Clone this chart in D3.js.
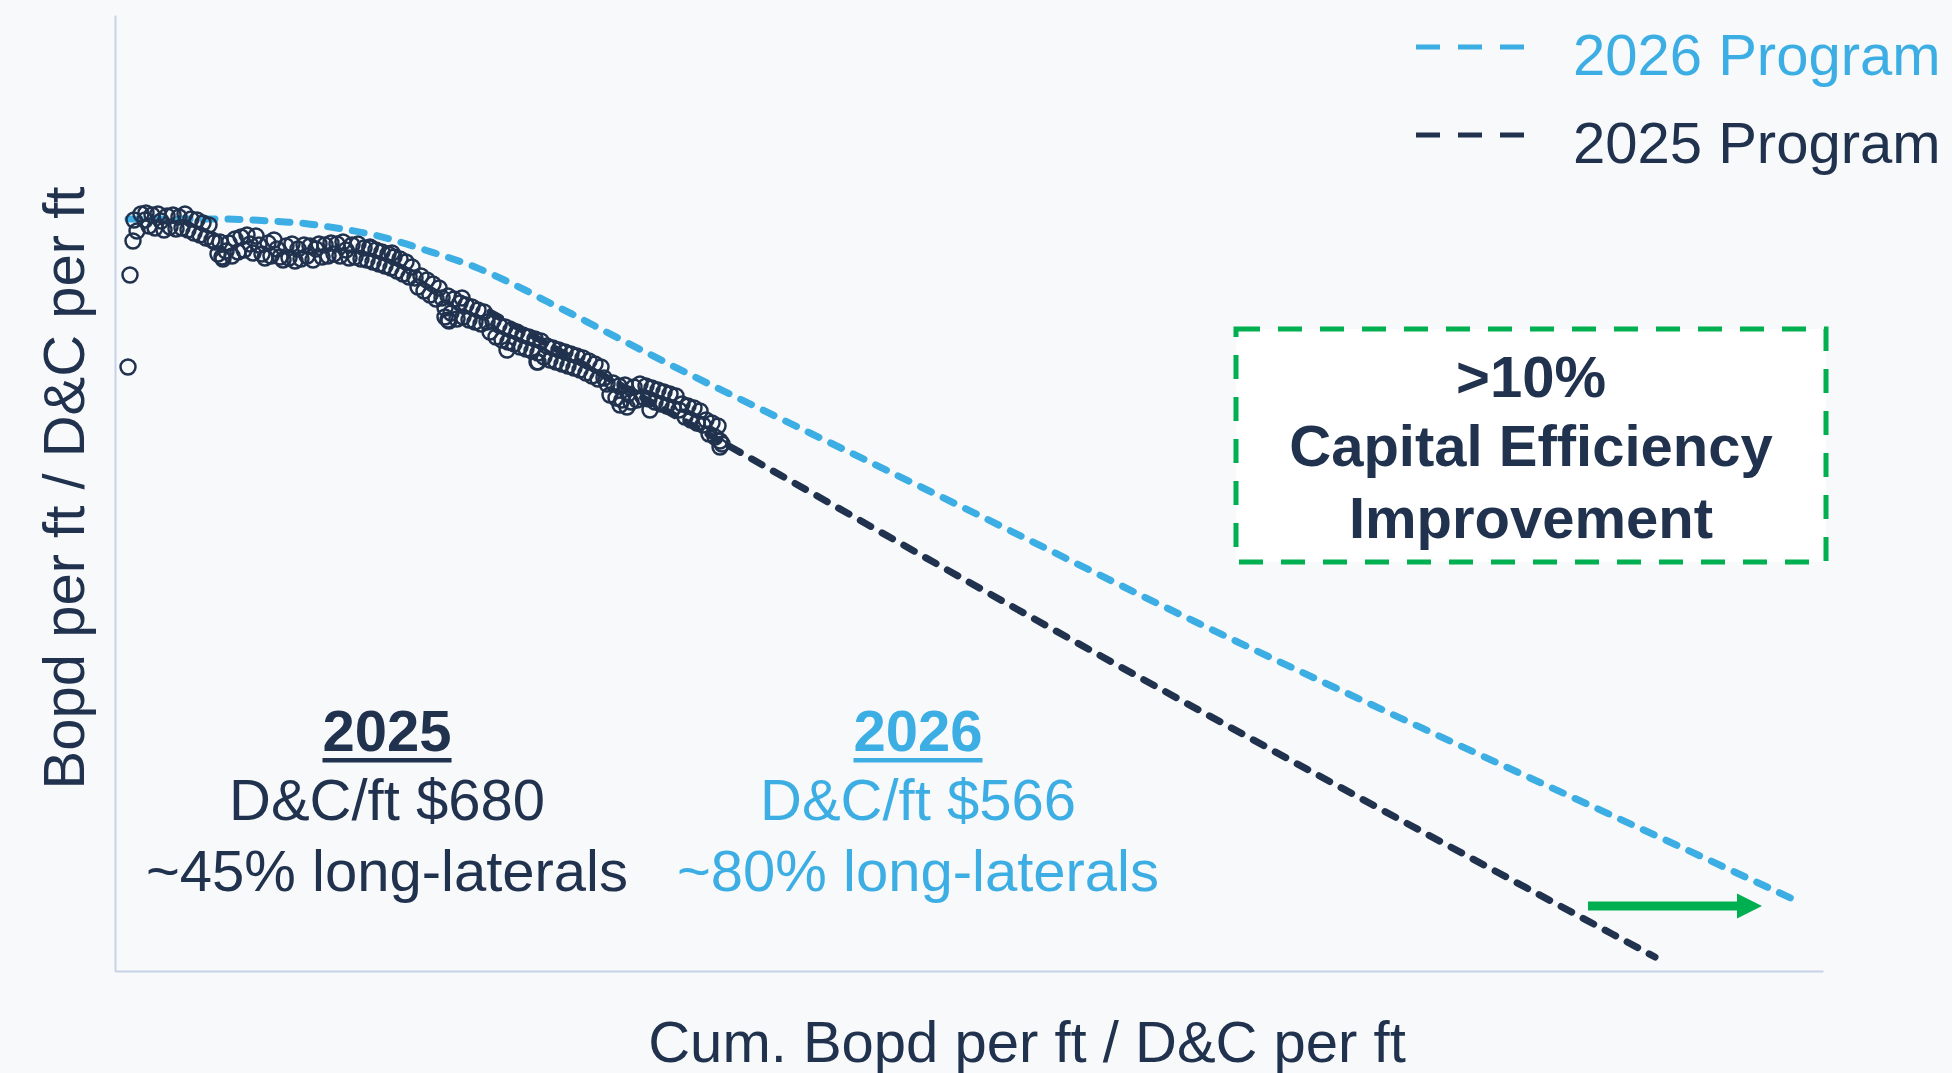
<!DOCTYPE html>
<html>
<head>
<meta charset="utf-8">
<script src="https://cdn.jsdelivr.net/npm/d3@7"></script>
<style>
  body { margin: 0; background: #f8f9fb; }
  text { font-family: "Liberation Sans", Arial, sans-serif; }
</style>
</head>
<body>
<div id="chartCont"></div>
<script>
// type curves, in the same (unlabelled) units as the scatter
let program2026 = [
  [1.3, 75.2], [6.0, 75.2], [10.5, 75.2], [15.5, 75.0], [18.5, 74.8], [20.8, 74.5],
  [22.8, 74.2], [25.9, 73.6], [28.5, 72.9], [31.0, 72.1], [33.5, 71.3], [36.0, 70.4],
  [38.5, 69.3], [41.0, 68.1], [43.3, 66.9], [45.7, 65.7], [48.0, 64.5], [59.0, 58.9],
  [62.5, 57.2], [84.5, 46.5], [108.5, 34.7], [133.5, 23.0], [158.3, 11.6], [168.0, 7.1]
];

let program2025 = [
  [37.5, 65.9], [60.5, 53.0], [93.2, 34.5], [154.0, 1.4]
];

// actual wells: cum. bopd per ft / D&C per ft vs bopd per ft / D&C per ft
let wells = [
  [1.3, 60.4], [1.5, 69.6], [1.8, 73.0], [2.2, 74.0], [2.6, 75.7], [1.9, 75.1], [3.0, 75.1],
  [3.1, 75.8], [3.4, 74.5], [3.7, 75.6], [4.0, 74.3], [4.3, 75.7], [4.6, 75.0], [4.9, 74.1],
  [5.2, 75.5], [5.5, 74.4], [5.8, 75.6], [6.1, 74.2], [6.4, 75.4], [6.7, 74.3], [7.0, 75.7],
  [7.3, 74.1], [7.6, 75.2], [7.9, 73.8], [8.2, 75.1], [8.5, 73.6], [8.8, 74.8], [9.1, 73.3],
  [9.4, 74.6], [9.7, 73.1], [10.0, 72.9], [10.3, 71.7], [10.5, 72.9], [10.8, 71.2], [11.1, 72.0],
  [11.4, 72.8], [11.7, 71.5], [12.0, 73.2], [12.3, 71.9], [12.6, 73.4], [12.9, 72.1], [13.2, 73.6],
  [13.5, 72.7], [13.8, 71.8], [14.1, 73.5], [14.4, 72.6], [14.7, 71.7], [15.0, 71.3], [15.3, 72.8],
  [15.6, 71.5], [15.9, 73.1], [16.2, 72.2], [16.5, 71.4], [16.8, 71.1], [17.1, 72.5], [17.4, 71.3],
  [17.7, 72.7], [18.0, 71.0], [18.3, 72.2], [18.6, 71.2], [18.9, 72.6], [19.2, 71.5], [19.5, 72.5],
  [19.8, 71.1], [20.1, 72.2], [20.4, 72.7], [20.7, 71.4], [21.0, 72.6], [21.3, 71.5], [21.6, 72.8],
  [21.9, 71.7], [22.2, 72.7], [22.5, 71.5], [22.8, 72.9], [23.1, 72.1], [23.4, 71.3], [23.7, 72.6],
  [24.0, 71.4], [24.3, 72.7], [24.6, 71.2], [24.9, 72.3], [25.2, 71.1], [25.5, 72.3], [25.8, 70.9],
  [26.1, 72.1], [26.4, 70.7], [26.7, 71.9], [27.0, 70.5], [27.3, 71.7], [27.6, 70.3], [27.9, 71.4],
  [28.2, 70.0], [28.5, 71.2], [28.8, 69.7], [29.1, 70.9], [29.4, 69.4], [29.7, 70.4], [30.0, 69.3],
  [30.3, 68.4], [30.6, 69.5], [30.9, 68.0], [31.2, 69.1], [31.5, 67.6], [31.8, 68.7], [32.1, 67.2],
  [32.4, 68.3], [32.7, 67.3], [33.0, 66.3], [33.3, 67.5], [33.6, 65.8], [33.9, 67.2], [34.2, 65.2],
  [34.5, 66.8], [34.8, 65.4], [35.1, 66.6], [35.4, 65.1], [35.7, 66.4], [36.0, 64.9], [36.3, 66.1],
  [36.6, 64.7], [36.9, 65.9], [37.2, 64.9], [37.5, 63.9], [37.8, 65.0], [38.1, 63.4], [38.4, 64.6],
  [38.7, 63.1], [39.0, 64.4], [39.3, 62.9], [39.6, 64.1], [39.9, 62.7], [40.2, 63.9], [40.5, 62.4],
  [40.8, 63.6], [41.1, 62.2], [41.4, 63.4], [41.7, 62.0], [42.0, 63.2], [42.3, 61.8], [42.6, 63.0],
  [42.9, 61.4], [43.2, 62.5], [43.5, 61.1], [43.8, 62.3], [44.1, 60.9], [44.4, 62.1], [44.7, 60.7],
  [45.0, 61.9], [45.3, 60.5], [45.6, 61.7], [45.9, 60.3], [46.2, 61.5], [46.5, 60.1], [46.8, 61.3],
  [47.1, 59.8], [47.4, 61.0], [47.7, 59.5], [48.0, 60.7], [48.3, 59.2], [48.6, 60.4], [48.9, 59.3],
  [49.2, 58.7], [49.5, 57.6], [49.8, 58.8], [50.1, 57.3], [50.4, 58.5], [50.7, 57.1], [51.0, 58.6],
  [51.3, 57.7], [51.6, 56.9], [51.9, 58.4], [52.2, 57.1], [52.5, 58.7], [52.8, 57.4], [53.1, 58.5],
  [53.4, 57.2], [53.7, 58.3], [54.0, 56.9], [54.3, 58.1], [54.6, 56.7], [54.9, 57.9], [55.2, 56.5],
  [55.5, 57.7], [55.8, 56.3], [56.1, 57.5], [56.4, 56.1], [56.7, 56.7], [57.0, 55.4], [57.3, 56.5],
  [57.6, 55.1], [57.9, 56.3], [58.2, 54.8], [58.5, 56.0], [58.8, 54.6], [59.1, 55.1], [59.4, 53.7],
  [59.7, 54.8], [60.0, 53.4], [60.3, 54.5], [60.5, 53.0], [60.7, 52.7],
  // loose wells off the main band
  [10.7, 71.4], [25.5, 72.4], [27.7, 71.8], [33.0, 65.4], [33.3, 65.1], [33.4, 65.0], [34.7, 67.3],
  [39.2, 62.1], [42.2, 60.9], [42.3, 60.9], [50.5, 56.6], [51.2, 56.4], [53.5, 56.1], [60.5, 52.4]
];

let legendLabels = ["2026 Program", "2025 Program"];
let boxLines = [">10%", "Capital Efficiency", "Improvement"];
let program2025Text = ["2025", "D&C/ft $680", "~45% long-laterals"];
let program2026Text = ["2026", "D&C/ft $566", "~80% long-laterals"];

(function() {
  let width = 1952,
    height = 1073;

  let navy = "#21324e",
    blue = "#3daee3",
    green = "#00b050";

  let svg = d3.select("#chartCont")
    .append("svg")
    .attr("width", width)
    .attr("height", height);

  svg.append("rect")
    .attr("width", width)
    .attr("height", height)
    .attr("fill", "#f8f9fb");

  let x = d3.scaleLinear().domain([0, 170.8]).range([115, 1823]);
  let y = d3.scaleLinear().domain([0, 95.6]).range([971, 15]);

  // axes have no ticks, only the lines
  svg.append("g")
    .attr("transform", "translate(0," + y(0) + ")")
    .call(d3.axisBottom(x).ticks(0).tickSizeOuter(0));
  svg.append("g")
    .attr("transform", "translate(" + x(0) + ",0)")
    .call(d3.axisLeft(y).ticks(0).tickSizeOuter(0));
  svg.selectAll(".domain")
    .attr("stroke", "#c6d3e7")
    .attr("stroke-width", 2);

  svg.append("text")
    .attr("x", 1027)
    .attr("y", 1062)
    .attr("text-anchor", "middle")
    .attr("font-size", 58)
    .attr("fill", navy)
    .text("Cum. Bopd per ft / D&C per ft");

  svg.append("text")
    .attr("transform", "translate(84,488) rotate(-90)")
    .attr("text-anchor", "middle")
    .attr("font-size", 58)
    .attr("fill", navy)
    .text("Bopd per ft / D&C per ft");

  // green efficiency box
  svg.append("rect")
    .attr("x", 1236)
    .attr("y", 329)
    .attr("width", 590)
    .attr("height", 233)
    .attr("fill", "#ffffff")
    .attr("stroke", green)
    .attr("stroke-width", 5)
    .attr("stroke-dasharray", "24,18");

  svg.selectAll(".box-line")
    .data(boxLines)
    .enter().append("text")
    .attr("class", "box-line")
    .attr("x", 1531)
    .attr("y", function(d, i) { return [397, 466, 538][i]; })
    .attr("text-anchor", "middle")
    .attr("font-size", 58)
    .attr("font-weight", "bold")
    .attr("fill", navy)
    .text(function(d) { return d; });

  let line = d3.line()
    .x(function(d) { return x(d[0]); })
    .y(function(d) { return y(d[1]); })
    .curve(d3.curveMonotoneX);

  svg.append("path")
    .datum(program2026)
    .attr("d", line)
    .attr("fill", "none")
    .attr("stroke", blue)
    .attr("stroke-width", 7)
    .attr("stroke-linecap", "round")
    .attr("stroke-dasharray", "12,13");

  svg.append("path")
    .datum(program2025)
    .attr("d", line)
    .attr("fill", "none")
    .attr("stroke", navy)
    .attr("stroke-width", 7)
    .attr("stroke-linecap", "round")
    .attr("stroke-dasharray", "12,13");

  // scatter of actual wells on top of the curves
  svg.selectAll("circle.well")
    .data(wells)
    .enter().append("circle")
    .attr("class", "well")
    .attr("cx", function(d) { return x(d[0]); })
    .attr("cy", function(d) { return y(d[1]); })
    .attr("r", 7.5)
    .attr("fill", "none")
    .attr("stroke", navy)
    .attr("stroke-width", 2.5);

  // arrow between the two end points
  let arrowY = y(6.5);
  svg.append("line")
    .attr("x1", x(147.3))
    .attr("x2", x(162.2))
    .attr("y1", arrowY)
    .attr("y2", arrowY)
    .attr("stroke", green)
    .attr("stroke-width", 9);
  svg.append("path")
    .attr("d", "M" + x(162.2) + "," + (arrowY - 12.5) +
      "L" + x(164.7) + "," + arrowY +
      "L" + x(162.2) + "," + (arrowY + 12.5) + "Z")
    .attr("fill", green);

  // legend
  let legendColors = [blue, navy];
  let legend = svg.selectAll(".legend")
    .data(legendLabels)
    .enter().append("g")
    .attr("class", "legend")
    .attr("transform", function(d, i) { return "translate(0," + (i * 88) + ")"; });

  legend.append("line")
    .attr("x1", 1416)
    .attr("x2", 1524)
    .attr("y1", 47)
    .attr("y2", 47)
    .attr("stroke", function(d, i) { return legendColors[i]; })
    .attr("stroke-width", 5)
    .attr("stroke-dasharray", "24,18");

  legend.append("text")
    .attr("x", 1573)
    .attr("y", 75)
    .attr("font-size", 58)
    .attr("fill", function(d, i) { return legendColors[i]; })
    .text(function(d) { return d; });

  // program notes under the curves
  function showNote(lines, cx, color) {
    let g = svg.append("g").attr("fill", color);
    g.selectAll("text")
      .data(lines)
      .enter().append("text")
      .attr("x", cx)
      .attr("y", function(d, i) { return [751, 820, 891][i]; })
      .attr("text-anchor", "middle")
      .attr("font-size", 58)
      .attr("font-weight", function(d, i) { return i === 0 ? "bold" : "normal"; })
      .text(function(d) { return d; });
    let w = g.select("text").node().getComputedTextLength();
    g.append("rect")
      .attr("x", cx - w / 2)
      .attr("y", 758)
      .attr("width", w)
      .attr("height", 4.5);
  }

  showNote(program2025Text, 387, navy);
  showNote(program2026Text, 918, blue);
})();
</script>
</body>
</html>
